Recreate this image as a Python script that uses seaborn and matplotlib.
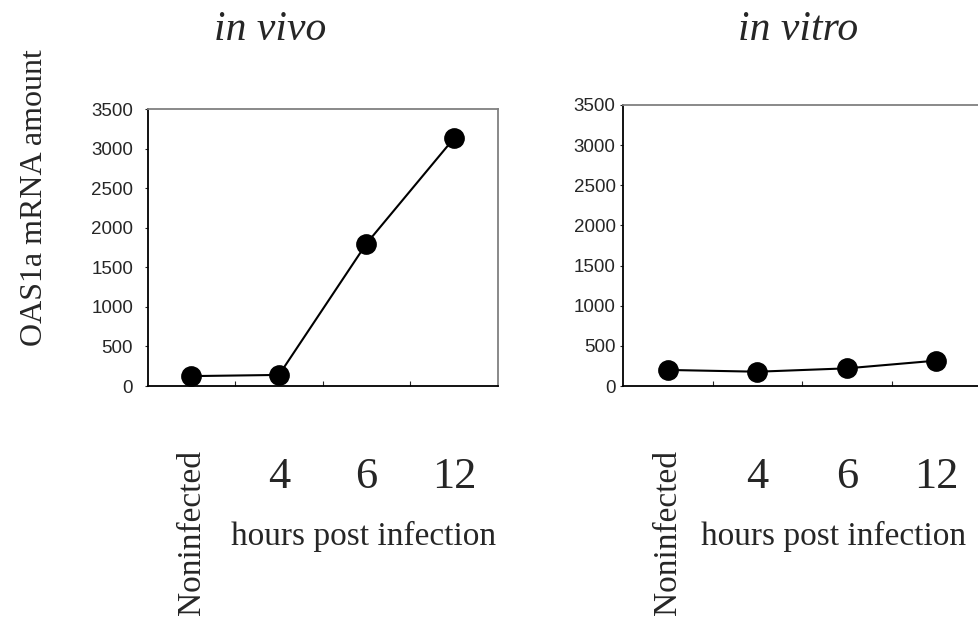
#___________________________________________________________________________________________________________________________________________
# Required Modules
import matplotlib
matplotlib.use("Agg")
import matplotlib.pyplot as plt
import matplotlib.transforms as mtransforms
import seaborn as sns
import pandas as pd
#___________________________________________________________________________________________________________________________________________
# Data (OAS1a mRNA amount)
categories = ["Noninfected", "4", "6", "12"]
in_vivo = [125, 140, 1800, 3130]
in_vitro = [200, 178, 220, 316]
y_ticks = [0, 500, 1000, 1500, 2000, 2500, 3000, 3500]
titles = ["in vivo", "in vitro"]
#___________________________________________________________________________________________________________________________________________
# Styling
sns.set_style("ticks")
plt.rcParams['font.family'] = ['Liberation Sans', 'DejaVu Sans']
serif = 'Liberation Serif'

fig = plt.figure(figsize=(9.79, 6.18), dpi=100)
ax1 = fig.add_axes([0.1509, 0.3754, 0.3575, 0.4482])
ax2 = fig.add_axes([0.6367, 0.3754, 0.3654, 0.4547])

panels = [
    (ax1, in_vivo, 8, (0.618, -0.545)),
    (ax2, in_vitro, 3, (0.589, -0.537)),
]
# digits sit a little lower than the rotated "Noninfected"
digit_shift = mtransforms.ScaledTranslation(0, -7 / 100, fig.dpi_scale_trans)
#___________________________________________________________________________________________________________________________________________
# PLOTTING : ( POINTPLOTS )
for ax, values, ypad, label_xy in panels:
    df = pd.DataFrame({'time': categories, 'amount': values})
    sns.pointplot(data=df, x='time', y='amount', order=categories, ax=ax,
                  color='black', errorbar=None, markersize=13.8, linewidth=1.5)
    ax.set_xlim(-0.5, len(categories) - 0.5)
    ax.set_ylim(0, 3500)
    ax.set_yticks(y_ticks)
    ax.tick_params(axis='y', direction='out', length=2.5, width=0.8, pad=ypad, labelsize=13.5)
    ax.set_ylabel('')

    # category labels under the axis, boundary ticks pointing inward
    ax.set_xticks(range(len(categories)))
    ax.set_xticklabels(categories)
    ax.set_xticks([0.5, 1.5, 2.5], minor=True)
    ax.tick_params(axis='x', which='major', length=0, pad=46)
    ax.tick_params(axis='x', which='minor', direction='in', length=3.5, width=0.8)
    for i, lab in enumerate(ax.get_xticklabels()):
        lab.set_family(serif)
        if i == 0:
            lab.set_rotation(90)
            lab.set_fontsize(24)
        else:
            lab.set_fontsize(32)
            lab.set_transform(lab.get_transform() + digit_shift)

    ax.set_xlabel('hours post infection', family=serif, fontsize=24, va='center')
    ax.xaxis.set_label_coords(*label_xy)

    for side in ['left', 'bottom']:
        ax.spines[side].set_color('black')
        ax.spines[side].set_linewidth(1.3)
    for side in ['top', 'right']:
        ax.spines[side].set_color('#808080')
        ax.spines[side].set_linewidth(1.3)

fig.text(270.5 / 979, 1 - 30 / 618, titles[0], family=serif, style='italic',
         fontsize=30, ha='center', va='center')
fig.text(798 / 979, 1 - 30 / 618, titles[1], family=serif, style='italic',
         fontsize=30, ha='center', va='center')
fig.text(35 / 979, 1 - 198 / 618, 'OAS1a mRNA amount', family=serif, fontsize=23,
         rotation=90, ha='center', va='center')

fig.savefig('out.png', dpi=100)
